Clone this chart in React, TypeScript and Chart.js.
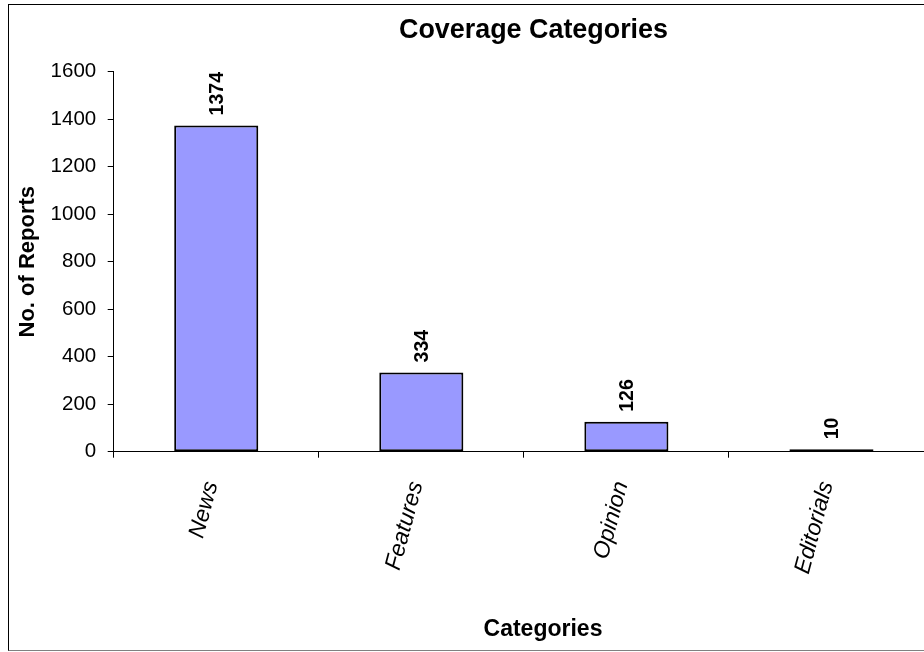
import React, { useEffect, useRef } from 'react';
import { Chart, registerables } from 'chart.js';

Chart.register(...registerables);

const categories = ['News', 'Features', 'Opinion', 'Editorials'];
const reports = [1374, 334, 126, 10];
const yTickValues = [0, 200, 400, 600, 800, 1000, 1200, 1400, 1600];

const chartTitle = 'Coverage Categories';
const xAxisTitle = 'Categories';
const yAxisTitle = 'No. of Reports';

const FONT = '"Liberation Sans", Arial, Helvetica, sans-serif';
const BAR_FILL = '#9999FF';
const AXIS_COLOR = '#000000';

const CANVAS_W = 1000;
const CANVAS_H = 648;
const X_LABEL_ANGLE = 75;

const textPlugin = {
  id: 'excelText',
  afterDatasetsDraw(chart: any) {
    const ctx = chart.ctx as CanvasRenderingContext2D;
    const meta = chart.getDatasetMeta(0);
    const xScale = chart.scales.x;
    ctx.save();
    ctx.fillStyle = '#000';

    // value labels above bars
    ctx.font = `bold 19.5px ${FONT}`;
    meta.data.forEach((bar: any, i: number) => {
      ctx.save();
      ctx.translate(bar.x + 7, bar.y - 10);
      ctx.rotate(-Math.PI / 2);
      ctx.textAlign = 'left';
      ctx.textBaseline = 'alphabetic';
      ctx.fillText(String(reports[i]), 0, 0);
      ctx.restore();
    });

    // rotated category labels
    ctx.font = `italic 23px ${FONT}`;
    categories.forEach((cat, i) => {
      const x = xScale.getPixelForTick(i);
      ctx.save();
      ctx.translate(x + 1.5, xScale.top + 32);
      ctx.rotate((-X_LABEL_ANGLE * Math.PI) / 180);
      ctx.textAlign = 'right';
      ctx.textBaseline = 'alphabetic';
      ctx.fillText(cat, 0, 0);
      ctx.restore();
    });

    // chart title and category axis title
    ctx.textAlign = 'center';
    ctx.textBaseline = 'alphabetic';
    ctx.font = `bold 26.9px ${FONT}`;
    ctx.fillText(chartTitle, 525.5, 34.3);
    ctx.font = `bold 23px ${FONT}`;
    ctx.fillText(xAxisTitle, 535, 632);
    ctx.restore();
  },
};

export default function App() {
  const canvasRef = useRef<HTMLCanvasElement | null>(null);

  useEffect(() => {
    const canvas = canvasRef.current;
    if (!canvas) return;
    const chart = new Chart(canvas, {
      type: 'bar',
      data: {
        labels: categories,
        datasets: [
          {
            label: yAxisTitle,
            data: reports,
            backgroundColor: BAR_FILL,
            borderColor: '#000',
            borderWidth: 2,
            borderSkipped: false,
            categoryPercentage: 1,
            barPercentage: 0.41,
          },
        ],
      },
      options: {
        animation: false,
        responsive: false,
        devicePixelRatio: 1,
        layout: { padding: { left: 0, top: 67.7, right: 74, bottom: 0 } },
        plugins: {
          legend: { display: false },
          title: { display: false },
          tooltip: { enabled: false },
        },
        scales: {
          x: {
            offset: true,
            afterFit: (scale: any) => {
              scale.height = 200.3;
            },
            grid: {
              offset: true,
              drawOnChartArea: false,
              drawTicks: true,
              tickLength: 6,
              color: AXIS_COLOR,
              lineWidth: 1,
            },
            border: { display: true, color: AXIS_COLOR, width: 1 },
            ticks: { display: false },
          },
          y: {
            min: 0,
            max: 1600,
            afterFit: (scale: any) => {
              scale.width = 105.7;
            },
            afterBuildTicks: (scale: any) => {
              scale.ticks = yTickValues.map((v) => ({ value: v }));
            },
            grid: {
              drawOnChartArea: false,
              drawTicks: true,
              tickLength: 6,
              color: AXIS_COLOR,
              lineWidth: 1,
            },
            border: { display: true, color: AXIS_COLOR, width: 1 },
            ticks: {
              padding: 11.5,
              color: '#000',
              font: { family: FONT, size: 20.5 },
              callback: (v: any) => String(v),
            },
            title: {
              display: true,
              text: yAxisTitle,
              color: '#000',
              padding: { top: 7, bottom: 0 },
              font: { family: FONT, size: 22, weight: 'bold' },
            },
          },
        },
      },
      plugins: [textPlugin],
    });
    return () => chart.destroy();
  }, []);

  return (
    <div
      style={{
        position: 'fixed',
        left: 0,
        top: 0,
        width: 924,
        height: 652,
        overflow: 'hidden',
        background: '#fff',
      }}
    >
      <canvas
        ref={canvasRef}
        width={CANVAS_W}
        height={CANVAS_H}
        style={{ position: 'absolute', left: 8, top: 4, width: CANVAS_W, height: CANVAS_H, display: 'block' }}
      />
      <div
        style={{
          position: 'absolute',
          left: 8,
          top: 4,
          width: CANVAS_W,
          height: 647,
          boxSizing: 'border-box',
          borderTop: '1px solid #000',
          borderLeft: '1px solid #000',
          borderBottom: '1px solid #808080',
          pointerEvents: 'none',
        }}
      />
    </div>
  );
}
